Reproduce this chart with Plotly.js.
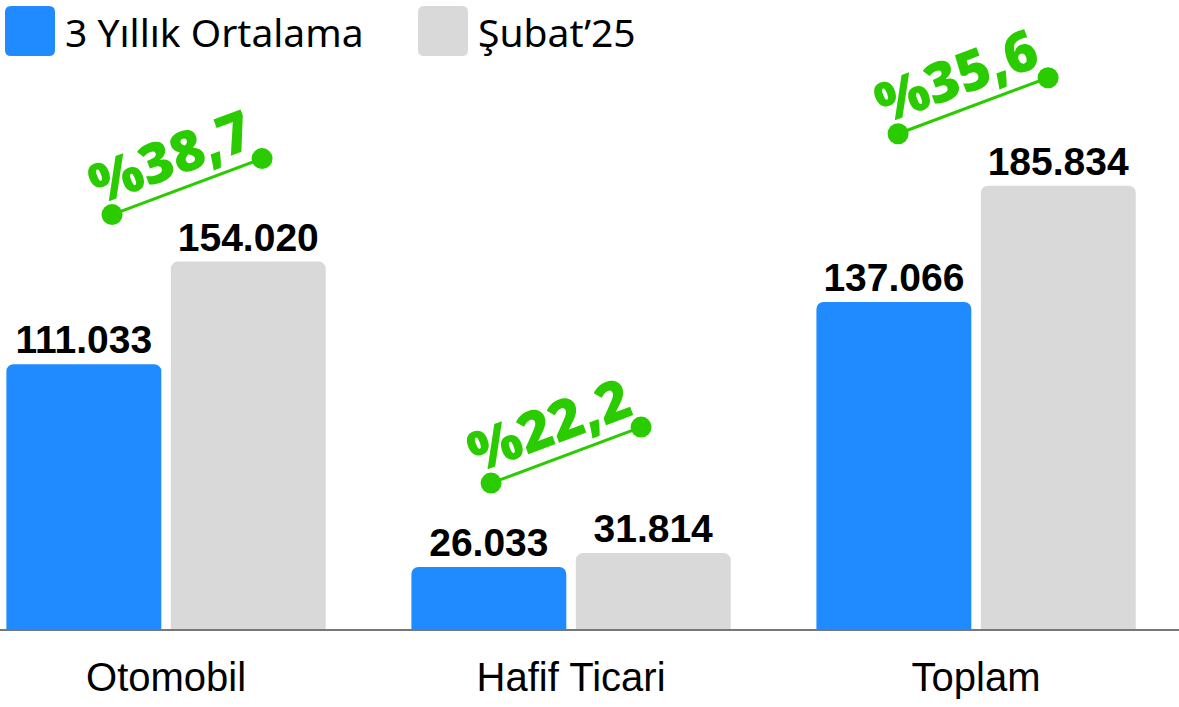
<!DOCTYPE html>
<html>
<head>
<meta charset="utf-8">
<script src="https://cdn.plot.ly/plotly-3.0.1.min.js"></script>
<style>
html,body{margin:0;padding:0;background:#fff;}
#chart{width:1179px;height:707px;}
</style>
</head>
<body>
<div id="chart"></div>
<script>
// ---- data ----
const categories = ['Otomobil', 'Hafif Ticari', 'Toplam'];
const avg3y = [111033, 26033, 137066];
const feb25 = [154020, 31814, 185834];
const seriesNames = ['3 Yıllık Ortalama', 'Şubat’25'];

// ---- styling / layout constants ----
const W = 1179, H = 707;
const M = {l: 0, r: 0, t: 0, b: 78};
const plotW = W - M.l - M.r, plotH = H - M.t - M.b;
const yMax = 263700;
const xRange = [-0.41, 2.501];
const pxPerCat = plotW / (xRange[1] - xRange[0]);
const pxPerUnit = plotH / yMax;
const BLUE = '#1F8BFF', GRAY = '#D9D9D9', GREEN = '#2ACC00';

// change badge geometry (pixels relative to category centre / grey bar top)
const badgeStartDx = [-54, -80, -78];
const badgeLift = [47, 70, 52];
const badgeVec = [150, 56];
const ang = Math.atan2(badgeVec[1], badgeVec[0]);

const fmtPct = v => '%' + v.toFixed(1).replace('.', ',');

const labelFont = {family: 'Liberation Sans', size: 39, color: '#000', weight: 'bold'};
const traces = [
  {
    type: 'bar', name: seriesNames[0], x: categories, y: avg3y,
    marker: {color: BLUE, cornerradius: 7},
    texttemplate: '%{y:,}', textposition: 'outside', cliponaxis: false,
    textfont: labelFont, hoverinfo: 'skip', showlegend: false
  },
  {
    type: 'bar', name: seriesNames[1], x: categories, y: feb25,
    marker: {color: GRAY, cornerradius: 7},
    texttemplate: '%{y:,}', textposition: 'outside', cliponaxis: false,
    textfont: labelFont, hoverinfo: 'skip', showlegend: false
  }
];

const annotations = [];
categories.forEach((c, i) => {
  const x0 = i + badgeStartDx[i] / pxPerCat;
  const y0 = feb25[i] + badgeLift[i] / pxPerUnit;
  const x1 = x0 + badgeVec[0] / pxPerCat;
  const y1 = y0 + badgeVec[1] / pxPerUnit;
  traces.push({
    type: 'scatter', mode: 'lines+markers', xaxis: 'x2', yaxis: 'y',
    x: [x0, x1], y: [y0, y1], cliponaxis: false,
    line: {color: GREEN, width: 3}, marker: {color: GREEN, size: 21},
    hoverinfo: 'skip', showlegend: false
  });
  const pct = (feb25[i] / avg3y[i] - 1) * 100;
  const d = 36, t = -5;
  const ux = Math.cos(ang), uy = -Math.sin(ang);   // screen coords
  const nx = -Math.sin(ang), ny = -Math.cos(ang);
  const sx = nx * d + ux * t, sy = ny * d + uy * t;
  annotations.push({
    xref: 'x2', yref: 'y', x: (x0 + x1) / 2, y: (y0 + y1) / 2,
    xshift: sx, yshift: -sy, showarrow: false, textangle: -ang * 180 / Math.PI,
    xanchor: 'center', yanchor: 'middle',
    text: fmtPct(pct),
    font: {family: 'Noto Sans', size: 56, color: GREEN, weight: 900}
  });
});

// custom legend
const px = x => x / plotW;
const py = y => 1 - y / plotH;
function roundRect(x0, y0, x1, y1, r) {
  const rx = r / plotW, ry = r / plotH;
  const X0 = px(x0), X1 = px(x1), Y0 = py(y0), Y1 = py(y1);
  return `M${X0 + rx},${Y0} L${X1 - rx},${Y0} Q${X1},${Y0} ${X1},${Y0 - ry} ` +
         `L${X1},${Y1 + ry} Q${X1},${Y1} ${X1 - rx},${Y1} L${X0 + rx},${Y1} ` +
         `Q${X0},${Y1} ${X0},${Y1 + ry} L${X0},${Y0 - ry} Q${X0},${Y0} ${X0 + rx},${Y0} Z`;
}
const legendItems = [
  {name: seriesNames[0], color: BLUE, sx: 5, tx: 63},
  {name: seriesNames[1], color: GRAY, sx: 418, tx: 476}
];
const shapes = [];
legendItems.forEach(it => {
  shapes.push({type: 'path', xref: 'paper', yref: 'paper', path: roundRect(it.sx, 6, it.sx + 50, 56, 6),
    fillcolor: it.color, line: {width: 0}});
  annotations.push({xref: 'paper', yref: 'paper', x: px(it.tx), y: py(32), xanchor: 'left', yanchor: 'middle',
    showarrow: false, text: it.name, font: {family: 'Noto Sans', size: 39, color: '#000'}});
});

const layout = {
  width: W, height: H,
  margin: M,
  paper_bgcolor: '#fff', plot_bgcolor: '#fff',
  separators: ',.',
  barmode: 'group', bargap: 0.188, bargroupgap: 0.058,
  showlegend: false,
  xaxis: {
    type: 'category', range: xRange, showgrid: false, zeroline: false,
    showline: true, linecolor: '#777', linewidth: 2, ticks: '',
    tickfont: {family: 'Liberation Sans', size: 40, color: '#000'},
    ticklabelstandoff: 12, fixedrange: true
  },
  xaxis2: {type: 'linear', overlaying: 'x', range: xRange, visible: false, fixedrange: true},
  yaxis: {range: [0, yMax], visible: false, showgrid: false, zeroline: false, fixedrange: true},
  shapes: shapes,
  annotations: annotations
};

Plotly.newPlot('chart', traces, layout, {displayModeBar: false, staticPlot: true});
</script>
</body>
</html>
